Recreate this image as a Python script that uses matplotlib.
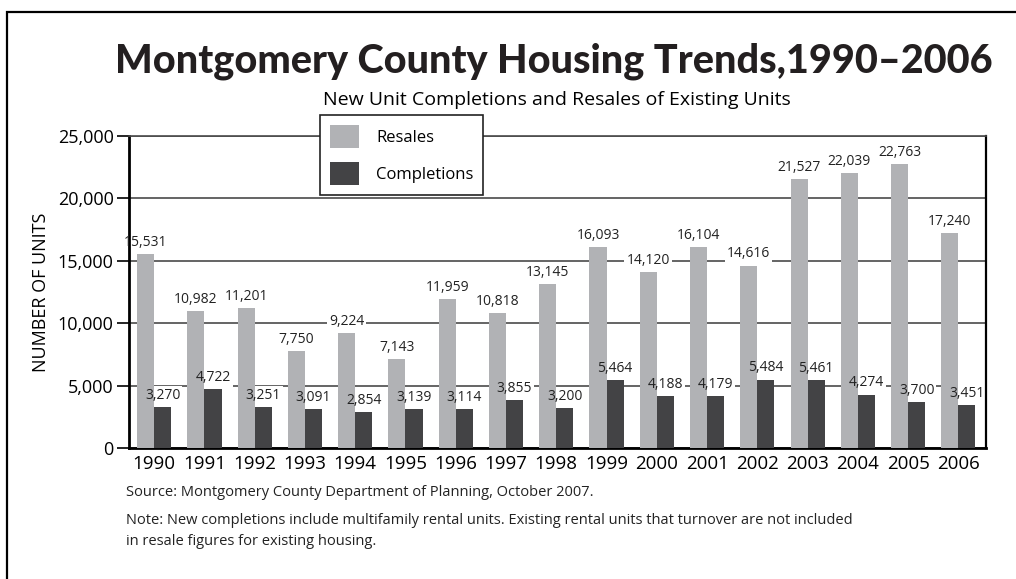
import matplotlib.pyplot as plt
import numpy as np
from matplotlib.patches import Rectangle

years = [str(y) for y in range(1990, 2007)]
resales = [15531, 10982, 11201, 7750, 9224, 7143, 11959, 10818, 13145,
           16093, 14120, 16104, 14616, 21527, 22039, 22763, 17240]
completions = [3270, 4722, 3251, 3091, 2854, 3139, 3114, 3855, 3200,
               5464, 4188, 4179, 5484, 5461, 4274, 3700, 3451]

plt.rcParams['font.family'] = ['Open Sans', 'DejaVu Sans']

fig = plt.figure(figsize=(10.16, 5.79), dpi=100)
ax = fig.add_axes([0.127, 0.2263, 0.8435, 0.5387])

x = np.arange(len(years))
w = 0.34
c_res = '#b1b2b5'
c_comp = '#434345'

b1 = ax.bar(x - w / 2, resales, w, color=c_res, label='Resales', zorder=3)
b2 = ax.bar(x + w / 2, completions, w, color=c_comp, label='Completions', zorder=3)

# value labels: white box only knocks out the gridlines, text sits on top of bars
for bars, vals in [(b1, resales), (b2, completions)]:
    for r, v in zip(bars, vals):
        xy = (r.get_x() + r.get_width() / 2, v)
        ax.annotate(f'{v:,}', xy, xytext=(0, 3), textcoords='offset points',
                    ha='center', va='bottom', fontsize=10, color='white',
                    bbox=dict(boxstyle='square,pad=0.15', fc='white', ec='none'),
                    zorder=2)
        ax.annotate(f'{v:,}', xy, xytext=(0, 3), textcoords='offset points',
                    ha='center', va='bottom', fontsize=10, color='#222222',
                    zorder=4)

ax.set_xlim(-0.5, 16.55)
ax.set_ylim(0, 25000)
ax.set_yticks(range(0, 25001, 5000))
ax.set_yticklabels([f'{t:,}' for t in range(0, 25001, 5000)], fontsize=13)
ax.set_xticks(x)
ax.set_xticklabels(years, fontsize=13.5)
ax.tick_params(axis='x', length=0, pad=5)
ax.tick_params(axis='y', length=9, width=1.2, direction='out', pad=2)
ax.yaxis.grid(True, color='#4a4a4a', linewidth=1.2, zorder=1)
ax.set_axisbelow(True)

for s in ['left', 'bottom']:
    ax.spines[s].set_linewidth(2)
ax.spines['right'].set_linewidth(1.6)
ax.spines['top'].set_linewidth(1.2)
ax.spines['top'].set_color('#4a4a4a')

ax.set_ylabel('NUMBER OF UNITS', fontsize=13, labelpad=6)

leg = ax.legend(loc='upper left', bbox_to_anchor=(0.223, 1.067), fontsize=12,
                handlelength=1.75, handleheight=1.75, labelspacing=0.85,
                handletextpad=1.0, borderpad=0.6, fancybox=False,
                framealpha=1, edgecolor='#222222', borderaxespad=0)
leg.get_frame().set_linewidth(1.2)
leg.set_zorder(5)

fig.text(0.545, 0.895, 'Montgomery County Housing Trends,1990\u20132006',
         ha='center', va='center', fontsize=28.5, fontweight='black',
         family=['Lato', 'DejaVu Sans'], color='#231f20')
fig.text(0.548, 0.828, 'New Unit Completions and Resales of Existing Units',
         ha='center', va='center', fontsize=14)

fig.text(0.124, 0.15, 'Source: Montgomery County Department of Planning, October 2007.',
         ha='left', va='center', fontsize=10.5, color='#222222')
fig.text(0.124, 0.083,
         'Note: New completions include multifamily rental units. Existing rental units that turnover are not included\n'
         'in resale figures for existing housing.',
         ha='left', va='center', fontsize=10.5, color='#222222', linespacing=1.55)

fig.patches.append(Rectangle((7 / 1016, -0.05), 1.1, 1 - 12 / 579 + 0.05,
                             transform=fig.transFigure, fill=False,
                             edgecolor='black', linewidth=1.6))

fig.savefig('out.png', dpi=100)
